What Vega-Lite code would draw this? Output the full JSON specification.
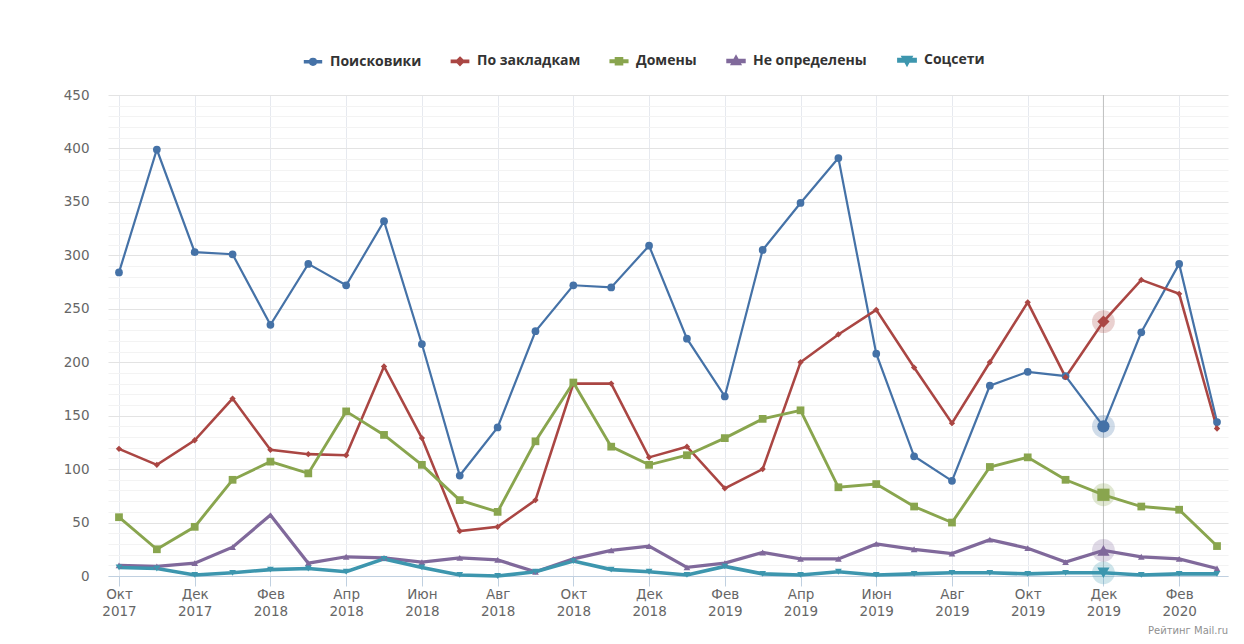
{
  "$schema": "https://vega.github.io/schema/vega-lite/v6.json",
  "width": 1120,
  "height": 481,
  "autosize": {"type": "none"},
  "padding": {"left": 108, "top": 95, "right": 16, "bottom": 68},
  "background": "white",
  "config": {
    "view": {"stroke": null},
    "font": "DejaVu Sans",
    "axisY": {"labelOverlap": false}
  },
  "title": {
    "text": "Рейтинг Mail.ru",
    "orient": "bottom",
    "anchor": "end",
    "frame": "group",
    "fontSize": 10,
    "fontWeight": "normal",
    "color": "#909090",
    "offset": 8
  },
  "data": {
    "values": [
      {"d": "2017-10", "Поисковики": 284, "По закладкам": 119, "Домены": 55, "Не определены": 10, "Соцсети": 8},
      {"d": "2017-11", "Поисковики": 399, "По закладкам": 104, "Домены": 25, "Не определены": 9, "Соцсети": 7},
      {"d": "2017-12", "Поисковики": 303, "По закладкам": 127, "Домены": 46, "Не определены": 12, "Соцсети": 1},
      {"d": "2018-01", "Поисковики": 301, "По закладкам": 166, "Домены": 90, "Не определены": 27, "Соцсети": 3},
      {"d": "2018-02", "Поисковики": 235, "По закладкам": 118, "Домены": 107, "Не определены": 57, "Соцсети": 6},
      {"d": "2018-03", "Поисковики": 292, "По закладкам": 114, "Домены": 96, "Не определены": 12, "Соцсети": 7},
      {"d": "2018-04", "Поисковики": 272, "По закладкам": 113, "Домены": 154, "Не определены": 18, "Соцсети": 4},
      {"d": "2018-05", "Поисковики": 332, "По закладкам": 196, "Домены": 132, "Не определены": 17, "Соцсети": 16},
      {"d": "2018-06", "Поисковики": 217, "По закладкам": 129, "Домены": 104, "Не определены": 13, "Соцсети": 8},
      {"d": "2018-07", "Поисковики": 94, "По закладкам": 42, "Домены": 71, "Не определены": 17, "Соцсети": 1},
      {"d": "2018-08", "Поисковики": 139, "По закладкам": 46, "Домены": 60, "Не определены": 15, "Соцсети": 0},
      {"d": "2018-09", "Поисковики": 229, "По закладкам": 71, "Домены": 126, "Не определены": 4, "Соцсети": 4},
      {"d": "2018-10", "Поисковики": 272, "По закладкам": 180, "Домены": 181, "Не определены": 16, "Соцсети": 14},
      {"d": "2018-11", "Поисковики": 270, "По закладкам": 180, "Домены": 121, "Не определены": 24, "Соцсети": 6},
      {"d": "2018-12", "Поисковики": 309, "По закладкам": 111, "Домены": 104, "Не определены": 28, "Соцсети": 4},
      {"d": "2019-01", "Поисковики": 222, "По закладкам": 121, "Домены": 113, "Не определены": 8, "Соцсети": 1},
      {"d": "2019-02", "Поисковики": 168, "По закладкам": 82, "Домены": 129, "Не определены": 12, "Соцсети": 9},
      {"d": "2019-03", "Поисковики": 305, "По закладкам": 100, "Домены": 147, "Не определены": 22, "Соцсети": 2},
      {"d": "2019-04", "Поисковики": 349, "По закладкам": 200, "Домены": 155, "Не определены": 16, "Соцсети": 1},
      {"d": "2019-05", "Поисковики": 391, "По закладкам": 226, "Домены": 83, "Не определены": 16, "Соцсети": 4},
      {"d": "2019-06", "Поисковики": 208, "По закладкам": 249, "Домены": 86, "Не определены": 30, "Соцсети": 1},
      {"d": "2019-07", "Поисковики": 112, "По закладкам": 195, "Домены": 65, "Не определены": 25, "Соцсети": 2},
      {"d": "2019-08", "Поисковики": 89, "По закладкам": 143, "Домены": 50, "Не определены": 21, "Соцсети": 3},
      {"d": "2019-09", "Поисковики": 178, "По закладкам": 200, "Домены": 102, "Не определены": 34, "Соцсети": 3},
      {"d": "2019-10", "Поисковики": 191, "По закладкам": 256, "Домены": 111, "Не определены": 26, "Соцсети": 2},
      {"d": "2019-11", "Поисковики": 187, "По закладкам": 186, "Домены": 90, "Не определены": 13, "Соцсети": 3},
      {"d": "2019-12", "Поисковики": 140, "По закладкам": 238, "Домены": 76, "Не определены": 24, "Соцсети": 3},
      {"d": "2020-01", "Поисковики": 228, "По закладкам": 277, "Домены": 65, "Не определены": 18, "Соцсети": 1},
      {"d": "2020-02", "Поисковики": 292, "По закладкам": 264, "Домены": 62, "Не определены": 16, "Соцсети": 2},
      {"d": "2020-03", "Поисковики": 144, "По закладкам": 138, "Домены": 28, "Не определены": 7, "Соцсети": 2}
    ]
  },
  "transform": [
    {"fold": ["Поисковики", "По закладкам", "Домены", "Не определены", "Соцсети"], "as": ["s", "v"]}
  ],
  "encoding": {
    "x": {
      "field": "d",
      "type": "ordinal",
      "scale": {
        "type": "point",
        "padding": 0.29,
        "domain": ["2017-10", "2017-11", "2017-12", "2018-01", "2018-02", "2018-03", "2018-04", "2018-05", "2018-06", "2018-07", "2018-08", "2018-09", "2018-10", "2018-11", "2018-12", "2019-01", "2019-02", "2019-03", "2019-04", "2019-05", "2019-06", "2019-07", "2019-08", "2019-09", "2019-10", "2019-11", "2019-12", "2020-01", "2020-02", "2020-03"]
      },
      "axis": {
        "title": null,
        "values": ["2017-10", "2017-12", "2018-02", "2018-04", "2018-06", "2018-08", "2018-10", "2018-12", "2019-02", "2019-04", "2019-06", "2019-08", "2019-10", "2019-12", "2020-02"],
        "labelExpr": "[['Янв','Фев','Мар','Апр','Май','Июн','Июл','Авг','Сен','Окт','Ноя','Дек'][toNumber(slice(datum.value,5))-1], slice(datum.value,0,4)]",
        "labelAngle": 0,
        "labelColor": "#666666",
        "labelFontSize": 13.5,
        "labelLineHeight": 17,
        "labelPadding": 1,
        "labelOverlap": false,
        "grid": true,
        "gridColor": "#e6e9ef",
        "domainColor": "#C0D0E0",
        "tickColor": "#C0D0E0",
        "tickSize": 10
      }
    },
    "y": {
      "field": "v",
      "type": "quantitative",
      "scale": {"domain": [0, 450], "nice": false},
      "axis": {
        "title": null,
        "values": [0, 10, 20, 30, 40, 50, 60, 70, 80, 90, 100, 110, 120, 130, 140, 150, 160, 170, 180, 190, 200, 210, 220, 230, 240, 250, 260, 270, 280, 290, 300, 310, 320, 330, 340, 350, 360, 370, 380, 390, 400, 410, 420, 430, 440, 450],
        "labelExpr": "datum.value % 50 == 0 ? datum.label : ''",
        "labelOverlap": false,
        "labelBound": false,
        "labelFontSize": {"condition": {"test": "datum.value % 50 == 0", "value": 13.5}, "value": 0.1},
        "gridColor": {"condition": {"test": "datum.value % 50 == 0", "value": "#e3e3e3"}, "value": "#f3f3f3"},
        "domain": false,
        "ticks": false,
        "tickSize": 0,
        "labelPadding": 19,
        "labelColor": "#666666"
      }
    },
    "color": {
      "field": "s",
      "type": "nominal",
      "scale": {
        "domain": ["Поисковики", "По закладкам", "Домены", "Не определены", "Соцсети"],
        "range": ["#4572A7", "#AA4643", "#89A54E", "#80699B", "#3D96AE"]
      },
      "legend": {
        "title": null,
        "orient": "none",
        "direction": "horizontal",
        "legendX": 198,
        "legendY": -42,
        "padding": 0,
        "columnPadding": 24,
        "symbolSize": 36,
        "symbolOpacity": 1,
        "symbolStrokeWidth": 0,
        "labelOffset": 10,
        "labelFont": "Open Sans",
        "labelFontSize": 14,
        "labelFontWeight": "bold",
        "labelColor": "#333333",
        "labelLimit": 300
      }
    }
  },
  "layer": [
    {
      "transform": [{"filter": "datum.d == '2019-12'"}],
      "mark": {"type": "point", "filled": true, "opacity": 0, "strokeWidth": 0},
      "encoding": {
        "shape": {
          "field": "s",
          "type": "nominal",
          "scale": {
            "domain": ["Поисковики", "По закладкам", "Домены", "Не определены", "Соцсети"],
            "range": [
              "M-2.7,-0.2H2.7V0.2H-2.7Z M1,0A1,1,0,1,1,-1,0A1,1,0,1,1,1,0Z",
              "M-2.7,-0.2H2.7V0.2H-2.7Z M0,-1.1L1.1,0L0,1.1L-1.1,0Z",
              "M-2.7,-0.2H2.7V0.2H-2.7Z M-0.95,-0.95H0.95V0.95H-0.95Z",
              "M-2.7,-0.2H2.7V0.2H-2.7Z M0,-1.1L1.1,0.9L-1.1,0.9Z",
              "M-2.7,-0.2H2.7V0.2H-2.7Z M-1.1,-0.9L1.1,-0.9L0,1.1Z"
            ]
          },
          "legend": {
            "title": null,
            "orient": "none",
            "direction": "horizontal",
            "legendX": 198,
            "legendY": -42,
            "padding": 0,
            "columnPadding": 24,
            "symbolSize": 36,
            "symbolOpacity": 1,
            "symbolStrokeWidth": 0,
            "labelOffset": 10,
            "labelFont": "Open Sans",
            "labelFontSize": 14,
            "labelFontWeight": "bold",
            "labelColor": "#333333",
            "labelLimit": 300
          }
        }
      }
    },
    {
      "transform": [{"filter": "datum.d == '2019-12' && datum.s == 'Поисковики'"}],
      "mark": {"type": "rule", "color": "#C0C0C0", "strokeWidth": 1},
      "encoding": {"color": {"value": "#C0C0C0"}, "y": {"datum": 0}, "y2": {"datum": 450}}
    },
    {
      "mark": {"type": "line"},
      "encoding": {
        "strokeWidth": {
          "field": "s",
          "type": "nominal",
          "scale": {
            "domain": ["Поисковики", "По закладкам", "Домены", "Не определены", "Соцсети"],
            "range": [2.2, 3.6, 2.2, 2.2, 2.2]
          },
          "legend": null
        }
      }
    },
    {
      "transform": [{"filter": "datum.d == '2019-12'"}],
      "mark": {"type": "point", "filled": true, "opacity": 0.25, "shape": "circle", "size": 520}
    },
    {
      "transform": [{"filter": "datum.s == 'Поисковики'"}],
      "mark": {"type": "point", "filled": true, "opacity": 1, "shape": "circle"},
      "encoding": {"size": {"condition": {"test": "datum.d == '2019-12'", "value": 150}, "value": 60}}
    },
    {
      "transform": [{"filter": "datum.s == 'По закладкам'"}],
      "mark": {"type": "point", "filled": true, "opacity": 1, "shape": "diamond"},
      "encoding": {"size": {"condition": {"test": "datum.d == '2019-12'", "value": 150}, "value": 40}}
    },
    {
      "transform": [{"filter": "datum.s == 'Домены'"}],
      "mark": {"type": "point", "filled": true, "opacity": 1, "shape": "square"},
      "encoding": {"size": {"condition": {"test": "datum.d == '2019-12'", "value": 150}, "value": 60}}
    },
    {
      "transform": [{"filter": "datum.s == 'Не определены'"}],
      "mark": {"type": "point", "filled": true, "opacity": 1, "shape": "triangle-up"},
      "encoding": {"size": {"condition": {"test": "datum.d == '2019-12'", "value": 150}, "value": 45}}
    },
    {
      "transform": [{"filter": "datum.s == 'Соцсети'"}],
      "mark": {"type": "point", "filled": true, "opacity": 1, "shape": "triangle-down"},
      "encoding": {"size": {"condition": {"test": "datum.d == '2019-12'", "value": 150}, "value": 45}}
    }
  ]
}
